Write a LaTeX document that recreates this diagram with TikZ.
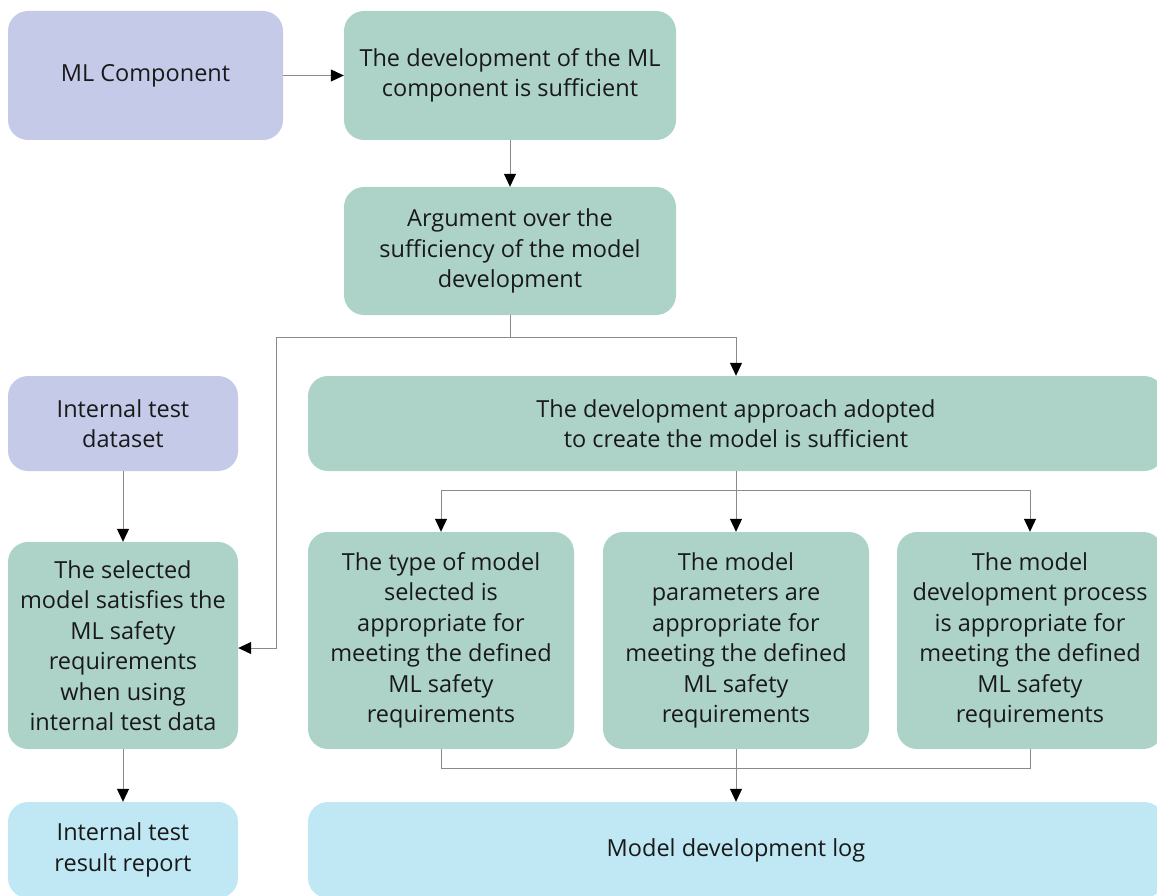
\documentclass[tikz,border=0pt]{standalone}
\usepackage{fontspec}
\setmainfont{Open Sans}
\usetikzlibrary{arrows.meta}
\definecolor{lav}{HTML}{C5CAE9}
\definecolor{sage}{HTML}{ADD3C8}
\definecolor{sky}{HTML}{BFE8F4}
\definecolor{wire}{HTML}{8A8A8A}
\begin{document}
\begin{tikzpicture}[x=1pt,y=-1pt,
  box/.style={rectangle, rounded corners=20pt, draw=none, align=center,
    font=\fontsize{23.5}{30.5}\selectfont, text=black!90, inner sep=2pt},
  lavbox/.style={box, fill=lav},
  sagebox/.style={box, fill=sage},
  skybox/.style={box, fill=sky},
  link/.style={draw=wire, line width=1pt},
  arr/.style={link, -{Triangle[width=12pt,length=13pt,fill=black,color=black]}}]
\useasboundingbox (0,0) rectangle (1157,896);
\clip (0,0) rectangle (1157,896);
% top row
\node[lavbox, minimum width=275pt, minimum height=129pt] (mlc) at (145.5,75.5) {ML Component};
\node[sagebox, minimum width=332pt, minimum height=129pt] (dev) at (510,75.5)
  {The development of the ML\\component is sufficient};
\node[sagebox, minimum width=332pt, minimum height=128pt] (arg) at (510,251)
  {Argument over the\\sufficiency of the model\\development};
% middle band
\node[sagebox, minimum width=856pt, minimum height=95pt] (appr) at (736,423.5)
  {The development approach adopted\\to create the model is sufficient};
\node[lavbox, minimum width=230pt, minimum height=95pt] (ds) at (123,423.5)
  {Internal test\\dataset};
\node[sagebox, minimum width=230pt, minimum height=207pt] (sel) at (123,645.5)
  {The selected\\model satisfies the\\ML safety\\requirements\\when using\\internal test data};
\node[sagebox, minimum width=266pt, minimum height=217pt] (t1) at (441,640.5)
  {The type of model\\selected is\\appropriate for\\meeting the defined\\ML safety\\requirements};
\node[sagebox, minimum width=266pt, minimum height=217pt] (t2) at (736,640.5)
  {The model\\parameters are\\appropriate for\\meeting the defined\\ML safety\\requirements};
\node[sagebox, minimum width=266pt, minimum height=217pt] (t3) at (1030,640.5)
  {The model\\development process\\is appropriate for\\meeting the defined\\ML safety\\requirements};
% bottom row
\node[skybox, minimum width=230pt, minimum height=96pt] (res) at (123,850)
  {Internal test\\result report};
\node[skybox, minimum width=856pt, minimum height=96pt] (log) at (736,850)
  {Model development log};
% junction points
\coordinate (j1) at (510,337);
\coordinate (j2) at (736,490);
\coordinate (j3) at (736,768);
% connectors
\draw[arr] (mlc.east) -- (dev.west);
\draw[arr] (dev.south) -- (arg.north);
\draw[link] (arg.south) -- (j1);
\draw[arr] (j1) -| (appr.north);
\draw[arr] (j1) -| (276,337) |- (sel.east |- 648,648);
\draw[arr] (ds.south) -- (sel.north);
\draw[arr] (sel.south) -- (res.north);
\draw[arr] (appr.south) -- (t2.north);
\draw[arr] (j2) -| (t1.north);
\draw[arr] (j2) -| (t3.north);
\draw[link] (t1.south) |- (j3);
\draw[link] (t3.south) |- (j3);
\draw[arr] (t2.south) -- (log.north);
\end{tikzpicture}
\end{document}
